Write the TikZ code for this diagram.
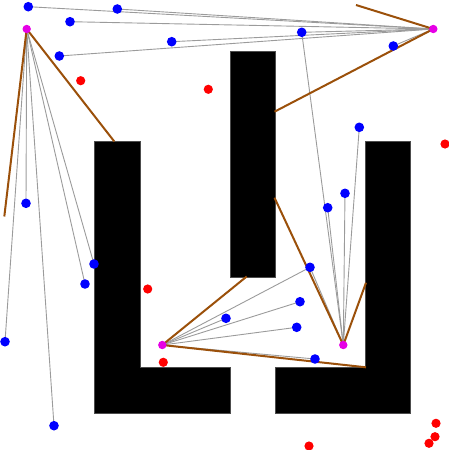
\documentclass[tikz,border=0pt]{standalone}
\usepackage{xcolor}
\usepackage{tikz}
\definecolor{ray}{RGB}{155,155,155}
\definecolor{wall}{RGB}{155,80,10}
\definecolor{seen}{RGB}{0,0,255}
\definecolor{lost}{RGB}{255,0,0}
\definecolor{bot}{RGB}{230,0,230}
\tikzset{
  obst/.style={fill=black, draw=black!70, line width=0.8pt},
  sight/.style={draw=ray, line width=0.9pt},
  hit/.style={draw=wall, line width=2pt},
}
\newcommand{\dotat}[3]{\fill[#1] (#2) circle (#3);}

\begin{document}
\begin{tikzpicture}[x=1pt, y=-1pt]
\useasboundingbox (0,0) rectangle (449,450);
% obstacles
\draw[obst] (94,141) -- (140,141) -- (140,367) -- (230,367) -- (230,413) -- (94,413) -- cycle;
\draw[obst] (230,51) rectangle (275,277);
\draw[obst] (365,141) -- (410,141) -- (410,413) -- (275,413) -- (275,367) -- (365,367) -- cycle;
% robots
\coordinate (rA) at (26.7,29);
\coordinate (rB) at (433.3,29);
\coordinate (rC) at (162.3,345);
\coordinate (rD) at (343.3,345);
% visible targets
\coordinate (t1) at (28.3,6.7);
\coordinate (t2) at (117.3,9);
\coordinate (t3) at (70,21.7);
\coordinate (t4) at (171.7,41.7);
\coordinate (t5) at (59.3,56);
\coordinate (t6) at (301.7,32.3);
\coordinate (t7) at (393.3,46);
\coordinate (t8) at (359.3,127.3);
\coordinate (t9) at (26,203.3);
\coordinate (t10) at (94,264);
\coordinate (t11) at (85,284);
\coordinate (t12) at (345,193.3);
\coordinate (t13) at (327.7,207.7);
\coordinate (t14) at (310,267.3);
\coordinate (t15) at (300,301.7);
\coordinate (t16) at (5,341.7);
\coordinate (t17) at (54,425.7);
\coordinate (t18) at (226,318.3);
\coordinate (t19) at (296.7,327.3);
\coordinate (t20) at (315,359);
% hidden targets
\coordinate (h1) at (80.7,80.7);
\coordinate (h2) at (208.3,89.3);
\coordinate (h3) at (445,144);
\coordinate (h4) at (147.7,289);
\coordinate (h5) at (163.3,362.3);
\coordinate (h6) at (309,446);
\coordinate (h7) at (436,423.3);
\coordinate (h8) at (435,436.7);
\coordinate (h9) at (429,443.3);
% wall hits
\coordinate (wA1) at (4.3,216.5);
\coordinate (wA2) at (114.3,141.5);
\coordinate (wB1) at (356,5);
\coordinate (wB2) at (274.5,111.7);
\coordinate (wC1) at (246.7,276.5);
\coordinate (wC2) at (366,367.3);
\coordinate (wD1) at (274.5,197.7);
\coordinate (wD2) at (366,282.7);
% lines of sight
\draw[sight] (rA) -- (t9);
\draw[sight] (rA) -- (t10);
\draw[sight] (rA) -- (t11);
\draw[sight] (rA) -- (t16);
\draw[sight] (rA) -- (t17);
\draw[sight] (rB) -- (t1);
\draw[sight] (rB) -- (t2);
\draw[sight] (rB) -- (t3);
\draw[sight] (rB) -- (t4);
\draw[sight] (rB) -- (t5);
\draw[sight] (rB) -- (t6);
\draw[sight] (rB) -- (t7);
\draw[sight] (rC) -- (t14);
\draw[sight] (rC) -- (t15);
\draw[sight] (rC) -- (t18);
\draw[sight] (rC) -- (t19);
\draw[sight] (rC) -- (t20);
\draw[sight] (rD) -- (t6);
\draw[sight] (rD) -- (t8);
\draw[sight] (rD) -- (t12);
\draw[sight] (rD) -- (t13);
\draw[sight] (rD) -- (t14);
% rays stopped by walls
\draw[hit] (rA) -- (wA1);
\draw[hit] (rA) -- (wA2);
\draw[hit] (rB) -- (wB1);
\draw[hit] (rB) -- (wB2);
\draw[hit] (rC) -- (wC1);
\draw[hit] (rC) -- (wC2);
\draw[hit] (rD) -- (wD1);
\draw[hit] (rD) -- (wD2);
% points
\dotat{seen}{t1}{4.8} \dotat{seen}{t2}{4.8} \dotat{seen}{t3}{4.8} \dotat{seen}{t4}{4.8}
\dotat{seen}{t5}{4.8} \dotat{seen}{t6}{4.8} \dotat{seen}{t7}{4.8} \dotat{seen}{t8}{4.8}
\dotat{seen}{t9}{4.8} \dotat{seen}{t10}{4.8} \dotat{seen}{t11}{4.8} \dotat{seen}{t12}{4.8}
\dotat{seen}{t13}{4.8} \dotat{seen}{t14}{4.8} \dotat{seen}{t15}{4.8} \dotat{seen}{t16}{4.8}
\dotat{seen}{t17}{4.8} \dotat{seen}{t18}{4.8} \dotat{seen}{t19}{4.8} \dotat{seen}{t20}{4.8}
\dotat{lost}{h1}{4.6} \dotat{lost}{h2}{4.6} \dotat{lost}{h3}{4.6} \dotat{lost}{h4}{4.6}
\dotat{lost}{h5}{4.6} \dotat{lost}{h6}{4.6} \dotat{lost}{h7}{4.6} \dotat{lost}{h8}{4.6}
\dotat{lost}{h9}{4.6}
\dotat{bot}{rA}{4.2} \dotat{bot}{rB}{4.2} \dotat{bot}{rC}{4.2} \dotat{bot}{rD}{4.2}
\end{tikzpicture}
\end{document}
